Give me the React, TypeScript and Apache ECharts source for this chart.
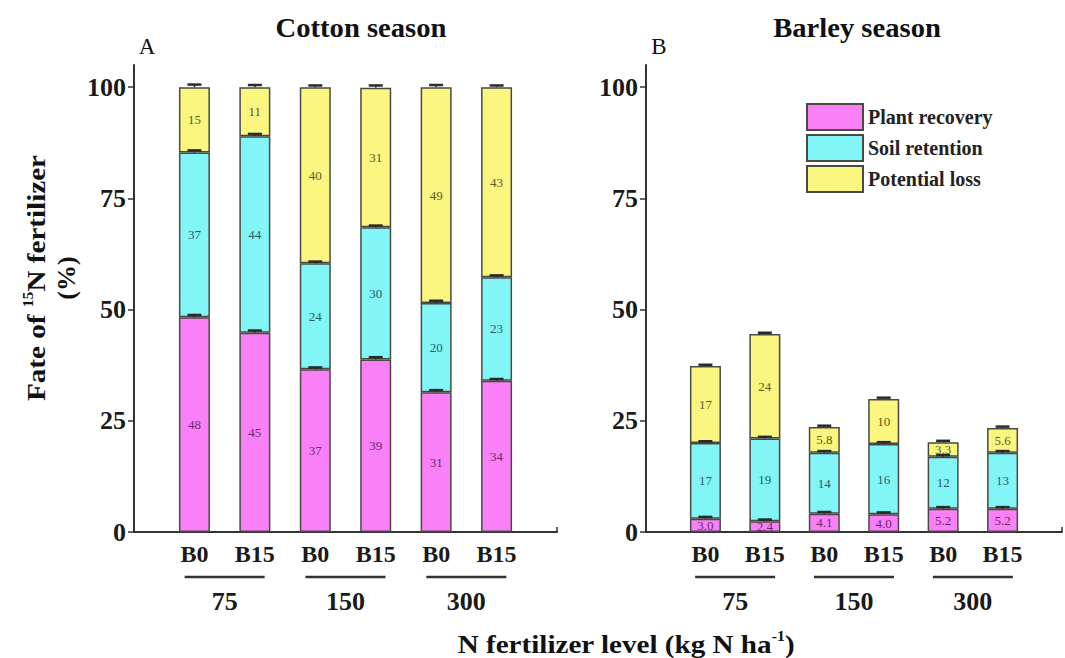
import React, { useEffect, useRef } from "react";
import * as echarts from "echarts";

const categories = ["B0", "B15", "B0", "B15", "B0", "B15"];
const nLevels = ["75", "150", "300"];
const seriesNames = ["Plant recovery", "Soil retention", "Potential loss"];

const cottonPlant = [48.3, 44.8, 36.6, 38.8, 31.4, 34.0];
const cottonSoil = [37.0, 44.2, 23.8, 29.7, 20.1, 23.3];
const cottonLoss = [14.7, 11.0, 39.6, 31.4, 48.5, 42.7];

const barleyPlant = [3.0, 2.4, 4.1, 4.0, 5.2, 5.2];
const barleySoil = [17.0, 18.6, 13.7, 15.8, 11.7, 12.6];
const barleyLoss = [17.3, 23.5, 5.8, 10.1, 3.3, 5.6];

const cottonPlantErr = [0.5, 0.5, 0.4, 0.5, 0.5, 0.4];
const cottonSoilErr = [0.5, 0.5, 0.4, 0.4, 0.5, 0.4];
const cottonLossErr = [0.6, 0.5, 0.4, 0.5, 0.5, 0.4];
const barleyPlantErr = [0.4, 0.4, 0.4, 0.4, 0.4, 0.4];
const barleySoilErr = [0.4, 0.4, 0.4, 0.4, 0.4, 0.4];
const barleyLossErr = [0.3, 0.3, 0.3, 0.3, 0.3, 0.3];

const colors = ["#fa80f8", "#82f6f6", "#fbf680"];
const labelColors = ["#6b2b6b", "#2b5b66", "#5e5a1c"];
const FONT = "Liberation Serif";

function fmt(v: number) {
  return v >= 9.95 ? String(Math.round(v)) : v.toFixed(1);
}

// category slots: empty padding slot on each side of the six bars
const slots = ["s0", ...categories.map((_, i) => "s" + (i + 1)), "s7"];

export default function App() {
  const ref = useRef<HTMLDivElement>(null);
  useEffect(() => {
    if (!ref.current) return;
    const chart = echarts.init(ref.current, undefined, { renderer: "svg" });

    const panels = [
      { plant: cottonPlant, soil: cottonSoil, loss: cottonLoss, errs: [cottonPlantErr, cottonSoilErr, cottonLossErr] },
      { plant: barleyPlant, soil: barleySoil, loss: barleyLoss, errs: [barleyPlantErr, barleySoilErr, barleyLossErr] },
    ];

    const series: any[] = [];
    panels.forEach((p, pi) => {
      const fr = [p.plant, p.soil, p.loss];
      fr.forEach((vals, fi) => {
        series.push({
          type: "bar",
          name: seriesNames[fi],
          xAxisIndex: pi,
          yAxisIndex: pi,
          stack: "s" + pi,
          barWidth: 31,
          data: ["-", ...vals, "-"],
          itemStyle: { color: colors[fi], borderColor: "#4a4a44", borderWidth: 1.5 },
          label: {
            show: true,
            position: "inside",
            fontFamily: FONT,
            fontSize: 13,
            color: labelColors[fi],
            formatter: (q: any) => fmt(Number(q.value)),
          },
        });
      });
      const errData: number[][] = [];
      for (let i = 0; i < p.plant.length; i++) {
        let acc = 0;
        fr.forEach((vals, fi) => {
          acc += vals[i];
          errData.push([i + 1, acc, p.errs[fi][i]]);
        });
      }
      series.push({
        type: "custom",
        xAxisIndex: pi,
        yAxisIndex: pi,
        z: 5,
        silent: true,
        data: errData,
        renderItem: (params: any, api: any) => {
          const x = api.value(0);
          const y = api.value(1);
          const e = api.value(2);
          const top = api.coord([x, y + e]);
          const bot = api.coord([x, y]);
          return {
            type: "group",
            children: [
              { type: "line", shape: { x1: top[0], y1: top[1], x2: bot[0], y2: bot[1] }, style: { stroke: "#2a2a2a", lineWidth: 1.5 } },
              { type: "line", shape: { x1: top[0] - 7, y1: top[1], x2: top[0] + 7, y2: top[1] }, style: { stroke: "#2a2a2a", lineWidth: 2.5 } },
            ],
          };
        },
      });
    });

    const xAxisBase = (gi: number) => ({
      type: "category",
      gridIndex: gi,
      data: slots,
      boundaryGap: false,
      splitLine: { show: false },
      axisLine: { lineStyle: { color: "#333", width: 2 } },
      axisTick: { inside: true, length: 5, interval: 0, lineStyle: { color: "#333", width: 1.5 } },
      axisLabel: {
        interval: 0,
        formatter: (_v: string, idx: number) => (idx >= 1 && idx <= categories.length ? categories[idx - 1] : ""),
        fontFamily: FONT,
        fontWeight: "bold",
        fontSize: 24,
        color: "#1a1a1a",
        margin: 10,
      },
    });
    const yAxisBase = (gi: number) => ({
      type: "value",
      gridIndex: gi,
      min: 0,
      max: 105,
      splitLine: { show: false },
      axisLine: { show: true, lineStyle: { color: "#333", width: 2 } },
      axisTick: { show: true, length: 6, customValues: [0, 25, 50, 75, 100], lineStyle: { color: "#333", width: 1.5 } },
      axisLabel: {
        customValues: [0, 25, 50, 75, 100],
        fontFamily: FONT,
        fontWeight: "bold",
        fontSize: 26,
        color: "#1a1a1a",
        margin: 8,
      },
    });

    chart.setOption({
      animation: false,
      grid: [
        { left: 134, width: 423, top: 65, bottom: 126 },
        { left: 646, width: 420, top: 65, bottom: 126 },
      ],
      xAxis: [xAxisBase(0), xAxisBase(1)],
      yAxis: [yAxisBase(0), yAxisBase(1)],
      legend: {
        data: seriesNames,
        orient: "vertical",
        left: 801,
        top: 98,
        itemWidth: 56,
        itemHeight: 26,
        itemGap: 3,
        icon: "rect",
        itemStyle: { borderColor: "#4a4a44", borderWidth: 2 },
        textStyle: { fontFamily: FONT, fontWeight: "bold", fontSize: 20, color: "#222" },
      },
      series,
    });

    const graphics: any[] = [];
    const titleStyle = { fontFamily: FONT, fontWeight: "bold", fontSize: 27, fill: "#111", align: "center", verticalAlign: "middle" };
    graphics.push({ type: "text", x: 361, y: 28, scaleX: 1.06, style: { ...titleStyle, text: "Cotton season" } });
    graphics.push({ type: "text", x: 857, y: 28, scaleX: 1.06, style: { ...titleStyle, text: "Barley season" } });
    graphics.push({ type: "text", x: 147, y: 46, style: { fontFamily: FONT, fontSize: 23, fill: "#111", text: "A", align: "center", verticalAlign: "middle" } });
    graphics.push({ type: "text", x: 659, y: 46, style: { fontFamily: FONT, fontSize: 23, fill: "#111", text: "B", align: "center", verticalAlign: "middle" } });

    const rich = {
      a: { fontFamily: FONT, fontWeight: "bold", fontSize: 26, fill: "#111", lineHeight: 30 },
      s: { fontFamily: FONT, fontWeight: "bold", fontSize: 14, fill: "#111", lineHeight: 14, verticalAlign: "top" },
    };
    graphics.push({
      type: "text",
      x: 36,
      y: 278,
      rotation: Math.PI / 2,
      scaleX: 1.12,
      style: { text: "{a|Fate of }{s|15}{a|N fertilizer}", rich, align: "center", verticalAlign: "middle" },
    });
    graphics.push({
      type: "text",
      x: 66,
      y: 278,
      rotation: Math.PI / 2,
      style: { text: "(%)", fontFamily: FONT, fontWeight: "bold", fontSize: 26, fill: "#111", align: "center", verticalAlign: "middle" },
    });
    graphics.push({
      type: "text",
      x: 626,
      y: 644,
      scaleX: 1.12,
      style: { text: "{a|N fertilizer level (kg N ha}{s|-1}{a|)}", rich, align: "center", verticalAlign: "middle" },
    });

    [0, 1].forEach((gi) => {
      nLevels.forEach((lv, k) => {
        const a = chart.convertToPixel({ xAxisIndex: gi }, slots[2 * k + 1]) as number;
        const b = chart.convertToPixel({ xAxisIndex: gi }, slots[2 * k + 2]) as number;
        const cx = (a + b) / 2;
        graphics.push({
          type: "line",
          shape: { x1: cx - 40, y1: 577, x2: cx + 40, y2: 577 },
          style: { stroke: "#333", lineWidth: 2.5 },
        });
        graphics.push({
          type: "text",
          x: cx,
          y: 601,
          style: { text: lv, fontFamily: FONT, fontWeight: "bold", fontSize: 26, fill: "#1a1a1a", align: "center", verticalAlign: "middle" },
        });
      });
    });

    chart.setOption({ graphic: graphics });

    return () => chart.dispose();
  }, []);

  return <div ref={ref} style={{ position: "fixed", left: 0, top: 0, width: 1065, height: 658, background: "#fff" }} />;
}
